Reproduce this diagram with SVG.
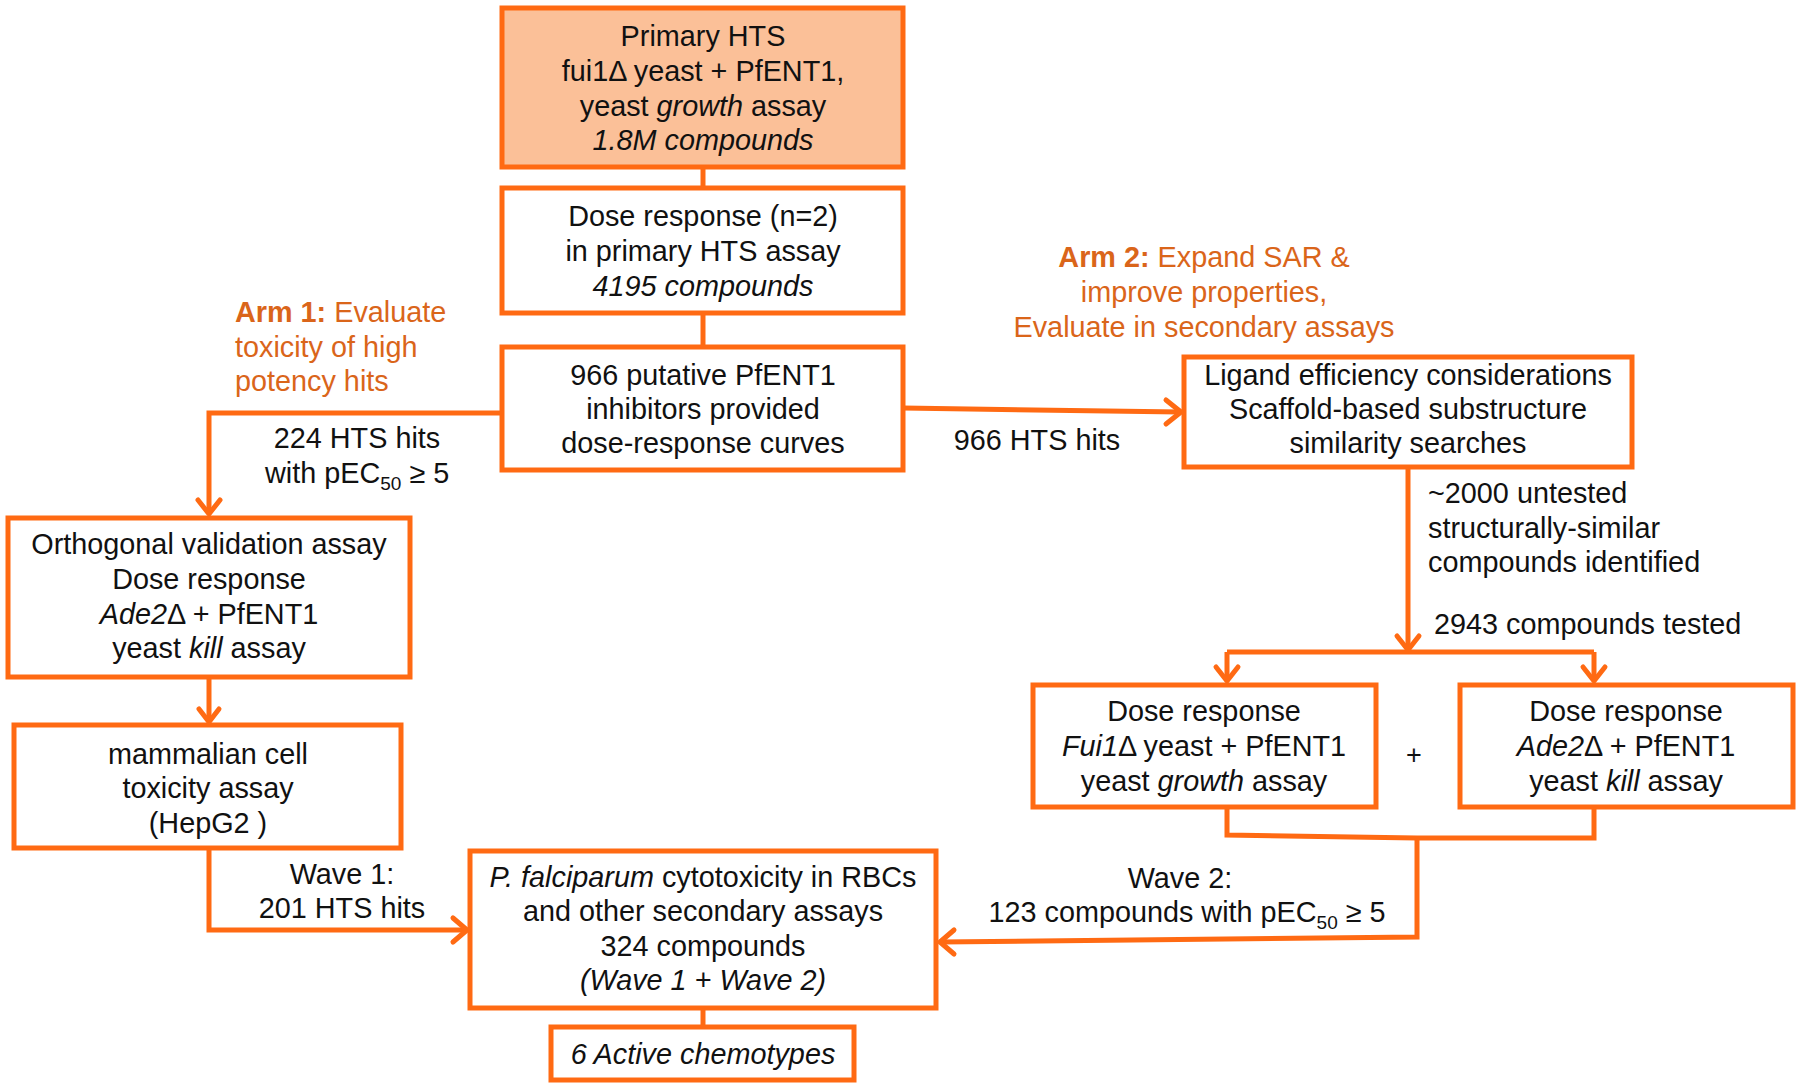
<svg xmlns="http://www.w3.org/2000/svg" width="1800" height="1088" viewBox="0 0 1800 1088">
<style>
.box{fill:#ffffff;stroke:#FF6A13;stroke-width:5}
.hl{fill:#FBC098}
.ln{fill:none;stroke:#FF6A13;stroke-width:5;stroke-linejoin:miter}
.ar{fill:none;stroke:#FF6A13;stroke-width:5;stroke-linecap:round;stroke-linejoin:round}
text{font-family:"Liberation Sans",Arial,sans-serif;font-size:28.8px;fill:#111111}
.c{text-anchor:middle}
.arm{fill:#DA651A}
.b{font-weight:bold}
.i{font-style:italic}
.sub{font-size:19px}
</style>
<g id="connectors">
<path class="ln" d="M703,167 V188"/>
<path class="ln" d="M703,313 V347"/>
<path class="ln" d="M502,413 H209 V514"/>
<path class="ar" d="M198,500 L209,514 L220,500"/>
<path class="ln" d="M903,408 L1180,412"/>
<path class="ar" d="M1166,400 L1181,412 L1166,424"/>
<path class="ln" d="M209,677 V722"/>
<path class="ar" d="M199,709 L209,722 L219,709"/>
<path class="ln" d="M209,848 V930 H467"/>
<path class="ar" d="M453,918 L467,930 L453,942"/>
<path class="ln" d="M703,1008 V1027"/>
<path class="ln" d="M1408,467 V650"/>
<path class="ar" d="M1397,636 L1408,650 L1419,636"/>
<path class="ln" d="M1227,652 H1594"/>
<path class="ln" d="M1227,652 V681"/>
<path class="ar" d="M1216,667 L1227,681 L1238,667"/>
<path class="ln" d="M1594,652 V681"/>
<path class="ar" d="M1583,667 L1594,681 L1605,667"/>
<path class="ln" d="M1227,807 V835 L1417,838 L1594,838 V807"/>
<path class="ln" d="M1417,838 V937 L940,942"/>
<path class="ar" d="M954,930 L940,942 L954,954"/>
</g>
<g id="primary-hts">
<rect class="box hl" x="502" y="8" width="401" height="159"/>
<text class="c" x="703" y="46">Primary HTS</text>
<text class="c" x="703" y="81">fui1Δ yeast + PfENT1,</text>
<text class="c" x="703" y="116">yeast <tspan class="i">growth</tspan> assay</text>
<text class="c i" x="703" y="150">1.8M compounds</text>
</g>
<g id="dose-response-n2">
<rect class="box" x="502" y="188" width="401" height="125"/>
<text class="c" x="703" y="226">Dose response (n=2)</text>
<text class="c" x="703" y="261">in primary HTS assay</text>
<text class="c i" x="703" y="296">4195 compounds</text>
</g>
<g id="putative-inhibitors">
<rect class="box" x="502" y="347" width="401" height="123"/>
<text class="c" x="703" y="385">966 putative PfENT1</text>
<text class="c" x="703" y="419">inhibitors provided</text>
<text class="c" x="703" y="453">dose-response curves</text>
</g>
<g id="arm1-label">
<text class="arm" x="235" y="322"><tspan class="b">Arm 1:</tspan> Evaluate</text>
<text class="arm" x="235" y="357">toxicity of high</text>
<text class="arm" x="235" y="391">potency hits</text>
</g>
<g id="arm1-edge-label">
<text class="c" x="357" y="448">224 HTS hits</text>
<text x="265" y="483">with pEC<tspan class="sub" dy="7">50</tspan><tspan dy="-7"> ≥ 5</tspan></text>
</g>
<g id="orthogonal">
<rect class="box" x="8" y="518" width="402" height="159"/>
<text class="c" x="209" y="554">Orthogonal validation assay</text>
<text class="c" x="209" y="589">Dose response</text>
<text class="c" x="209" y="624"><tspan class="i">Ade2</tspan>Δ + PfENT1</text>
<text class="c" x="209" y="658">yeast <tspan class="i">kill</tspan> assay</text>
</g>
<g id="mammalian">
<rect class="box" x="14" y="725" width="387" height="123"/>
<text class="c" x="208" y="764">mammalian cell</text>
<text class="c" x="208" y="798">toxicity assay</text>
<text class="c" x="208" y="833">(HepG2 )</text>
</g>
<g id="wave1-label">
<text class="c" x="342" y="884">Wave 1:</text>
<text class="c" x="342" y="918">201 HTS hits</text>
</g>
<g id="pfalciparum">
<rect class="box" x="470" y="851" width="466" height="157"/>
<text class="c" x="703" y="887"><tspan class="i">P. falciparum</tspan> cytotoxicity in RBCs</text>
<text class="c" x="703" y="921">and other secondary assays</text>
<text class="c" x="703" y="956">324 compounds</text>
<text class="c i" x="703" y="990">(Wave 1 + Wave 2)</text>
</g>
<g id="active-chemotypes">
<rect class="box" x="551" y="1027" width="303" height="53"/>
<text class="c i" x="703" y="1064">6 Active chemotypes</text>
</g>
<g id="arm2-label">
<text class="c arm" x="1204" y="267"><tspan class="b">Arm 2:</tspan> Expand SAR &amp;</text>
<text class="c arm" x="1204" y="302">improve properties,</text>
<text class="c arm" x="1204" y="337">Evaluate in secondary assays</text>
</g>
<g id="arm2-edge-label">
<text class="c" x="1037" y="450">966 HTS hits</text>
</g>
<g id="ligand">
<rect class="box" x="1184" y="357" width="448" height="110"/>
<text class="c" x="1408" y="385">Ligand efficiency considerations</text>
<text class="c" x="1408" y="419">Scaffold-based substructure</text>
<text class="c" x="1408" y="453">similarity searches</text>
</g>
<g id="untested-label">
<text x="1428" y="503">~2000 untested</text>
<text x="1428" y="538">structurally-similar</text>
<text x="1428" y="572">compounds identified</text>
</g>
<g id="tested-label">
<text x="1434" y="634">2943 compounds tested</text>
</g>
<g id="dose-fui1">
<rect class="box" x="1033" y="685" width="343" height="122"/>
<text class="c" x="1204" y="721">Dose response</text>
<text class="c" x="1204" y="756"><tspan class="i">Fui1</tspan>Δ yeast + PfENT1</text>
<text class="c" x="1204" y="791">yeast <tspan class="i">growth</tspan> assay</text>
</g>
<g id="plus">
<text class="c" x="1414" y="764" style="font-size:27px">+</text>
</g>
<g id="dose-ade2">
<rect class="box" x="1460" y="685" width="333" height="122"/>
<text class="c" x="1626" y="721">Dose response</text>
<text class="c" x="1626" y="756"><tspan class="i">Ade2</tspan>Δ + PfENT1</text>
<text class="c" x="1626" y="791">yeast <tspan class="i">kill</tspan> assay</text>
</g>
<g id="wave2-label">
<text class="c" x="1180" y="888">Wave 2:</text>
<text class="c" x="1187" y="922">123 compounds with pEC<tspan class="sub" dy="7">50</tspan><tspan dy="-7"> ≥ 5</tspan></text>
</g>
</svg>
